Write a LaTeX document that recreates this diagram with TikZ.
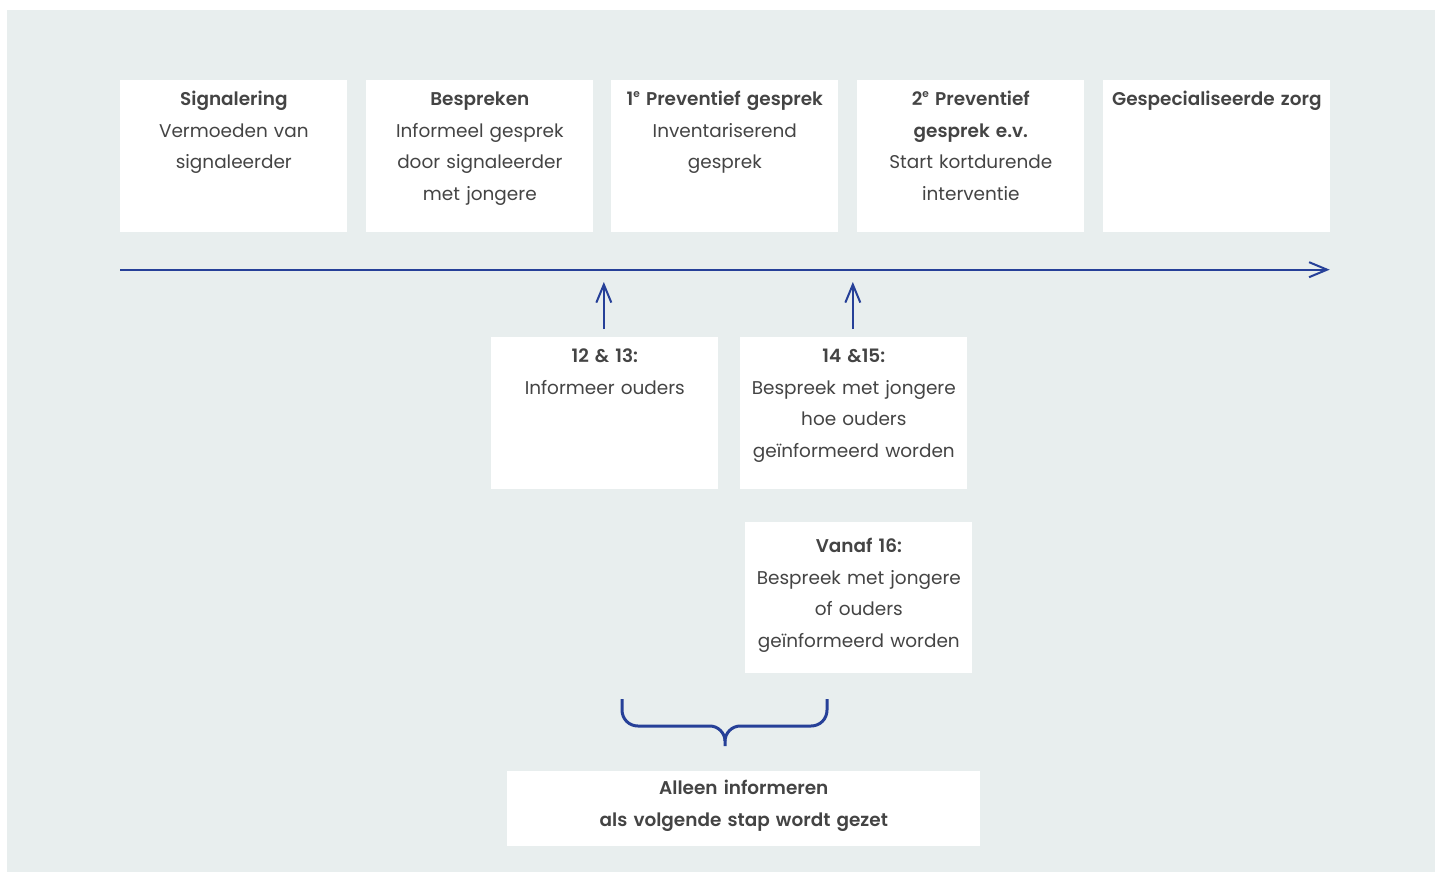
\documentclass[tikz,border=0pt]{standalone}
\usepackage{fontspec}
\setmainfont{Poppins}[BoldFont={Poppins SemiBold}]
\usepackage{xcolor}
\usetikzlibrary{arrows.meta}
\usetikzlibrary{positioning}
\usetikzlibrary{calc}

\definecolor{panel}{RGB}{232,238,238}
\definecolor{ink}{RGB}{68,68,68}
\definecolor{lineblue}{RGB}{38,64,152}

\newcommand{\ordsup}[1]{\raisebox{0.75ex}{\fontsize{6}{6}\selectfont #1}}

\begin{document}
\begin{tikzpicture}[x=0.02cm,y=-0.02cm,
  card/.style={fill=white, inner sep=0pt, anchor=north west, text width=4.54cm,
    align=center, text height=0.5cm, text depth=2.54cm, text=ink,
    font=\fontsize{10.5}{18.1}\selectfont},
  flow/.style={draw=lineblue, line width=0.4mm,
    -{Straight Barb[length=3.6mm,width=3mm]}},
  brace/.style={draw=lineblue, line width=0.6mm}]

  % page and panel
  \fill[white] (0,0) rectangle (1435,872);
  \fill[panel] (7,10) rectangle (1435,872);

  % steps along the time line
  \node[card] (sig)   at (120,80)  {\textbf{Signalering}\\Vermoeden van\\signaleerder};
  \node[card] (besp)  at (366,80)  {\textbf{Bespreken}\\Informeel gesprek\\door signaleerder\\met jongere};
  \node[card] (prev1) at (611,80)  {\textbf{1\ordsup{e} Preventief gesprek}\\Inventariserend\\gesprek};
  \node[card] (prev2) at (857,80)  {\textbf{2\ordsup{e} Preventief}\\\textbf{gesprek e.v.}\\Start kortdurende\\interventie};
  \node[card] (spec)  at (1103,80) {\textbf{Gespecialiseerde zorg}};

  % time line
  \coordinate (tstart) at ($(sig.south west)+(0,37)$);
  \coordinate (tend)   at ($(spec.south east)+(-1,37)$);
  \draw[flow] (tstart) -- (tend);

  % informing parents by age
  \node[card] (ouders) at (491,337) {\textbf{12 \& 13:}\\Informeer ouders};
  \node[card] (hoe)    at (740,337) {\textbf{14 \&15:}\\Bespreek met jongere\\hoe ouders\\geïnformeerd worden};
  \node[card, text height=0.6cm, text depth=2.42cm] (vanaf) at (745,522)
    {\textbf{Vanaf 16:}\\Bespreek met jongere\\of ouders\\geïnformeerd worden};

  \draw[flow] ($(ouders.north)+(-1,-8)$) -- ($(ouders.north)+(-1,-55)$);
  \draw[flow] ($(hoe.north)+(-1,-8)$) -- ($(hoe.north)+(-1,-55)$);

  % brace
  \coordinate (braceL) at (622,699);
  \coordinate (braceR) at (827,699);
  \coordinate (braceM) at (725,746);
  \draw[brace] (braceL) -- (622,710) .. controls (622,719) and (629,726) .. (638,726)
    -- (710,726) .. controls (718,726) and (725,733) .. (725,741) -- (braceM);
  \draw[brace] (braceR) -- (827,710) .. controls (827,719) and (820,726) .. (811,726)
    -- (740,726) .. controls (732,726) and (725,733) .. (725,741);

  % conclusion
  \node[card, text width=9.46cm, text height=0.46cm, text depth=1.04cm,
    font=\fontsize{10.5}{18.1}\selectfont\bfseries] (alleen) at (507,771)
    {Alleen informeren\\als volgende stap wordt gezet};

\end{tikzpicture}
\end{document}
